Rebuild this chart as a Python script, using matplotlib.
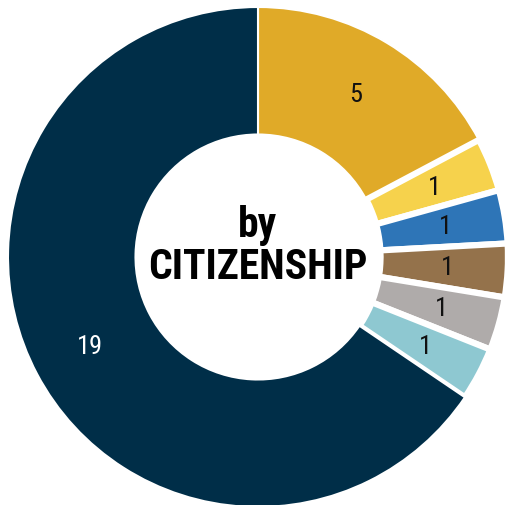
import matplotlib
matplotlib.use("Agg")
import matplotlib.pyplot as plt

labels = ["Gold", "Yellow", "Blue", "Brown", "Gray", "Teal", "Navy"]
values = [5, 1, 1, 1, 1, 1, 19]
colors = ["#E0AA28", "#F6D24C", "#2E75B7", "#94724B", "#AFABAA", "#8EC8D1", "#002E48"]
text_colors = ["#111111"] * 6 + ["#FFFFFF"]
edge_widths = [1.5, 4.5, 4.5, 4.5, 4.5, 4.5, 1.5]
center_text = "by\nCITIZENSHIP"
FAM = ["Roboto Condensed", "DejaVu Sans"]

W, H = 508, 506
fig = plt.figure(figsize=(W / 100, H / 100), dpi=100)
cx, cy, R = 258, 506 - 258, 250
ax = fig.add_axes([(cx - R) / W, (cy - R) / H, 2 * R / W, 2 * R / H])

wedges, texts = ax.pie(values, colors=colors, startangle=90, counterclock=False,
                       radius=1, labels=[str(v) for v in values], labeldistance=0.76,
                       wedgeprops=dict(width=0.51, edgecolor="white"),
                       textprops=dict(fontsize=19, family=FAM))
ax.set_xlim(-1, 1)
ax.set_ylim(-1, 1)
ax.set_aspect("auto")
ax.axis("off")
for w, lw in zip(wedges, edge_widths):
    w.set_linewidth(lw)
for t, c in zip(texts, text_colors):
    t.set_color(c)
    t.set_ha("center")
    t.set_va("center")

ax.text(0, 0.045, center_text, ha="center", va="center", fontsize=30, fontweight="bold",
        family=FAM, color="black", linespacing=1.02)

fig.savefig("out.png", dpi=100)
